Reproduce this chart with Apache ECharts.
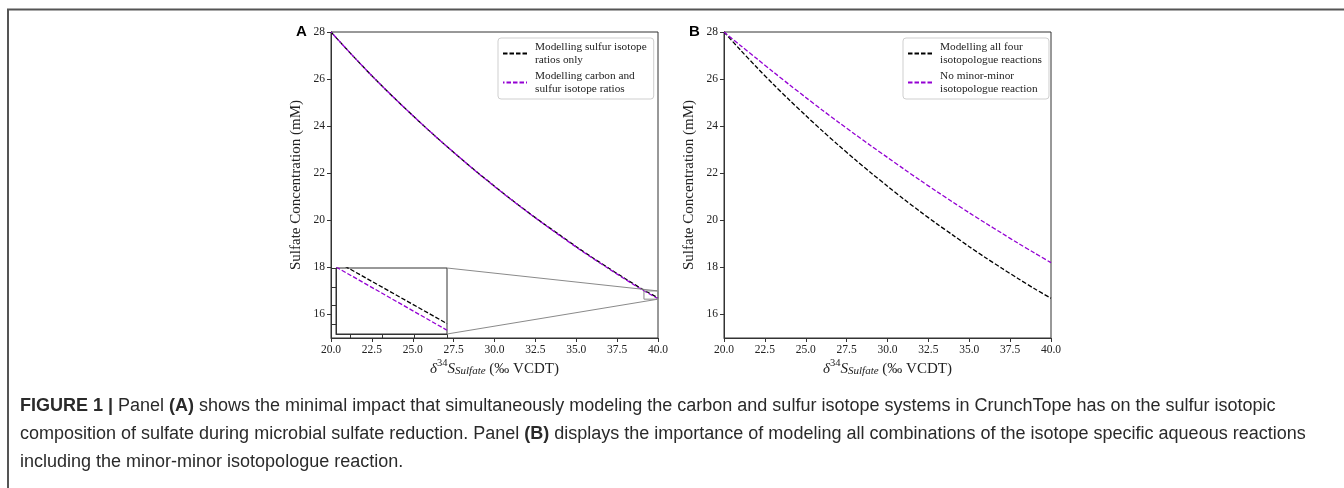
<!DOCTYPE html>
<html><head><meta charset="utf-8">
<script src="https://cdn.jsdelivr.net/npm/echarts@6/dist/echarts.min.js"></script>
<style>html,body{margin:0;padding:0;background:#fff}#c{width:1344px;height:488px}</style>
</head><body><div id="c"></div>
<script>
// ---- data ----
const xValues = [20,21,22,23,24,25,26,27,28,29,30,31,32,33,34,35,36,37,38,39,40];
const panelA_sulfurOnly   = [28.00,27.24,26.50,25.79,25.11,24.45,23.81,23.19,22.59,22.01,21.45,20.90,20.37,19.86,19.37,18.88,18.41,17.96,17.52,17.09,16.705];
const panelA_carbonSulfur = [28.00,27.24,26.50,25.79,25.11,24.45,23.81,23.19,22.59,22.00,21.44,20.89,20.36,19.85,19.35,18.86,18.39,17.94,17.49,17.06,16.67];
const panelB_allFour      = [28.00,27.24,26.50,25.79,25.11,24.45,23.81,23.19,22.59,22.01,21.45,20.90,20.37,19.86,19.37,18.88,18.41,17.96,17.52,17.09,16.69];
const panelB_noMinorMinor = [28.00,27.43,26.87,26.31,25.76,25.22,24.69,24.17,23.66,23.16,22.67,22.18,21.70,21.23,20.77,20.32,19.88,19.45,19.02,18.61,18.20];
const yTickValues = [16,18,20,22,24,26,28];
const insetXTicks = [39.25,39.5,39.75,40];
const insetYTicks = [16.7,16.8,16.9,17.0];
const insetXRange = [39.14,40];
const insetYRange = [16.65,17.0];
const legendA = ['Modelling sulfur isotope\nratios only','Modelling carbon and\nsulfur isotope ratios'];
const legendB = ['Modelling all four\nisotopologue reactions','No minor-minor\nisotopologue reaction'];
const yName = 'Sulfate Concentration (mM)';
const captionLines = [
  '{b|FIGURE 1 |} Panel {b|(A)} shows the minimal impact that simultaneously modeling the carbon and sulfur isotope systems in CrunchTope has on the sulfur isotopic',
  'composition of sulfate during microbial sulfate reduction. Panel {b|(B)} displays the importance of modeling all combinations of the isotope specific aqueous reactions',
  'including the minor-minor isotopologue reaction.'
];

const pairs = ys => xValues.map((x,i)=>[x, ys[i]]);
const SERIF = 'Liberation Serif, Times New Roman, serif';
const SANS = 'Liberation Sans, Arial, Helvetica, sans-serif';
const PURPLE = '#9400d3';
const AX = '#333';

function mainX(gi){
  return {type:'value', gridIndex:gi, min:20, max:40, interval:2.5,
    axisLine:{onZero:false, lineStyle:{color:AX}},
    axisTick:{length:4, lineStyle:{color:AX}},
    axisLabel:{margin:6, color:'#222', fontFamily:SERIF, fontSize:11.5, formatter:v=>v.toFixed(1)},
    splitLine:{show:false},
    name:'{i|δ}{sup|34}{i|S}{sub|Sulfate}{n| (‰ VCDT)}', nameLocation:'middle', nameGap:20, nameMoveOverlap:false,
    nameTextStyle:{rich:{
      i:{fontFamily:SERIF, fontStyle:'italic', fontSize:15, color:'#222', verticalAlign:'bottom', lineHeight:19},
      sup:{fontFamily:SERIF, fontSize:10.5, color:'#222', verticalAlign:'top', lineHeight:19},
      sub:{fontFamily:SERIF, fontStyle:'italic', fontSize:11, color:'#222', verticalAlign:'bottom', lineHeight:15},
      n:{fontFamily:SERIF, fontSize:15, color:'#222', verticalAlign:'bottom', lineHeight:19}
    }}
  };
}
function mainY(gi){
  return {type:'value', gridIndex:gi, min:15, max:28,
    axisLine:{onZero:false, lineStyle:{color:AX}},
    axisTick:{length:4, customValues:yTickValues, lineStyle:{color:AX}},
    axisLabel:{margin:6, color:'#222', fontFamily:SERIF, fontSize:11.5, customValues:yTickValues},
    splitLine:{show:false},
    name:yName, nameLocation:'middle', nameGap:27,
    nameTextStyle:{fontFamily:SERIF, fontSize:15, color:'#222'}
  };
}
function dashed(color, offset){
  return {color:color, width:1.3, type:[4.5,2], dashOffset:offset||0};
}
function lineSeries(name, xi, ys, color, offset, extra){
  return Object.assign({name:name, type:'line', xAxisIndex:xi, yAxisIndex:xi, data:pairs(ys),
    showSymbol:false, symbol:'none', itemStyle:{color:color, opacity:0}, lineStyle:dashed(color, offset)}, extra||{});
}

const chart = echarts.init(document.getElementById('c'), null, {renderer:'canvas'});
const legendCommon = {orient:'vertical', padding:[3,7,4,4], itemWidth:24, itemHeight:10, itemGap:4,
  backgroundColor:'#fff', borderColor:'#cfcfcf', borderWidth:1, borderRadius:3, selectedMode:false,
  itemStyle:{opacity:0},
  textStyle:{fontFamily:SERIF, fontSize:11.3, color:'#222', lineHeight:12.5, padding:[0,0,0,3]}};

chart.setOption({
  animation:false,
  backgroundColor:'#fff',
  grid:[
    {left:331, top:32, width:327, height:306, show:true, borderColor:AX, borderWidth:1, backgroundColor:'transparent'},
    {left:336, top:268, width:111, height:66, show:true, borderColor:AX, borderWidth:1, backgroundColor:'#fff', z:3},
    {left:724, top:32, width:327, height:306, show:true, borderColor:AX, borderWidth:1, backgroundColor:'transparent'}
  ],
  xAxis:[
    mainX(0),
    {type:'value', gridIndex:1, min:insetXRange[0], max:insetXRange[1], z:4,
      axisLine:{onZero:false, lineStyle:{color:AX}},
      axisTick:{length:4, customValues:insetXTicks, lineStyle:{color:AX}},
      axisLabel:{show:false}, splitLine:{show:false}},
    mainX(2)
  ],
  yAxis:[
    mainY(0),
    {type:'value', gridIndex:1, min:insetYRange[0], max:insetYRange[1], z:4,
      axisLine:{onZero:false, lineStyle:{color:AX}},
      axisTick:{length:4, customValues:insetYTicks, lineStyle:{color:AX}},
      axisLabel:{show:false}, splitLine:{show:false}},
    mainY(2)
  ],
  legend:[
    Object.assign({}, legendCommon, {left:498, top:38, data:legendA}),
    Object.assign({}, legendCommon, {left:903, top:38, data:legendB})
  ],
  series:[
    lineSeries(legendA[0], 0, panelA_sulfurOnly, '#000', 0, {smooth:0.3}),
    lineSeries(legendA[1], 0, panelA_carbonSulfur, PURPLE, 3, {smooth:0.3}),
    lineSeries(legendA[0], 1, panelA_sulfurOnly, '#000', 0, {z:5}),
    lineSeries(legendA[1], 1, panelA_carbonSulfur, PURPLE, 0, {z:5}),
    lineSeries(legendB[0], 2, panelB_allFour, '#000', 0, {smooth:0.3}),
    lineSeries(legendB[1], 2, panelB_noMinorMinor, PURPLE, 0, {smooth:0.3})
  ]
});

// inset marker rectangle and connector lines, positioned through the axes
const cUR = chart.convertToPixel({gridIndex:1}, [insetXRange[1], insetYRange[1]]);
const cLR = chart.convertToPixel({gridIndex:1}, [insetXRange[1], insetYRange[0]]);
const mUL = chart.convertToPixel({gridIndex:0}, [insetXRange[0], insetYRange[1]]);
const mLR = chart.convertToPixel({gridIndex:0}, [insetXRange[1], insetYRange[0]]);
const mUR = chart.convertToPixel({gridIndex:0}, [insetXRange[1], insetYRange[1]]);

const graphics = [
  {type:'polyline', silent:true, shape:{points:[[8,488],[8,9.5],[1344,9.5]]}, style:{stroke:'#555', lineWidth:2, fill:null}},
  {type:'rect', silent:true, z:10, shape:{x:mUL[0], y:mUL[1], width:mLR[0]-mUL[0], height:mLR[1]-mUL[1]}, style:{stroke:'#8a8a8a', fill:null, lineWidth:1}},
  {type:'line', silent:true, z:10, shape:{x1:cUR[0], y1:cUR[1], x2:mUR[0], y2:mUR[1]}, style:{stroke:'#8a8a8a', lineWidth:1}},
  {type:'line', silent:true, z:10, shape:{x1:cLR[0], y1:cLR[1], x2:mLR[0], y2:mLR[1]}, style:{stroke:'#8a8a8a', lineWidth:1}},
  {type:'text', silent:true, x:296, y:32, style:{text:'A', font:'bold 15px '+SANS, fill:'#000', verticalAlign:'middle'}},
  {type:'text', silent:true, x:689, y:32, style:{text:'B', font:'bold 15px '+SANS, fill:'#000', verticalAlign:'middle'}}
];
const capY = [406, 434, 462];
captionLines.forEach((t,i)=>{
  graphics.push({type:'text', silent:true, x:20, y:capY[i], style:{text:t, fontFamily:SANS, fontSize:18, fill:'#2a2a2a', verticalAlign:'middle',
    rich:{b:{fontFamily:SANS, fontSize:18, fontWeight:'bold', fill:'#2a2a2a'}}}});
});
chart.setOption({graphic:graphics});
</script>
</body></html>
